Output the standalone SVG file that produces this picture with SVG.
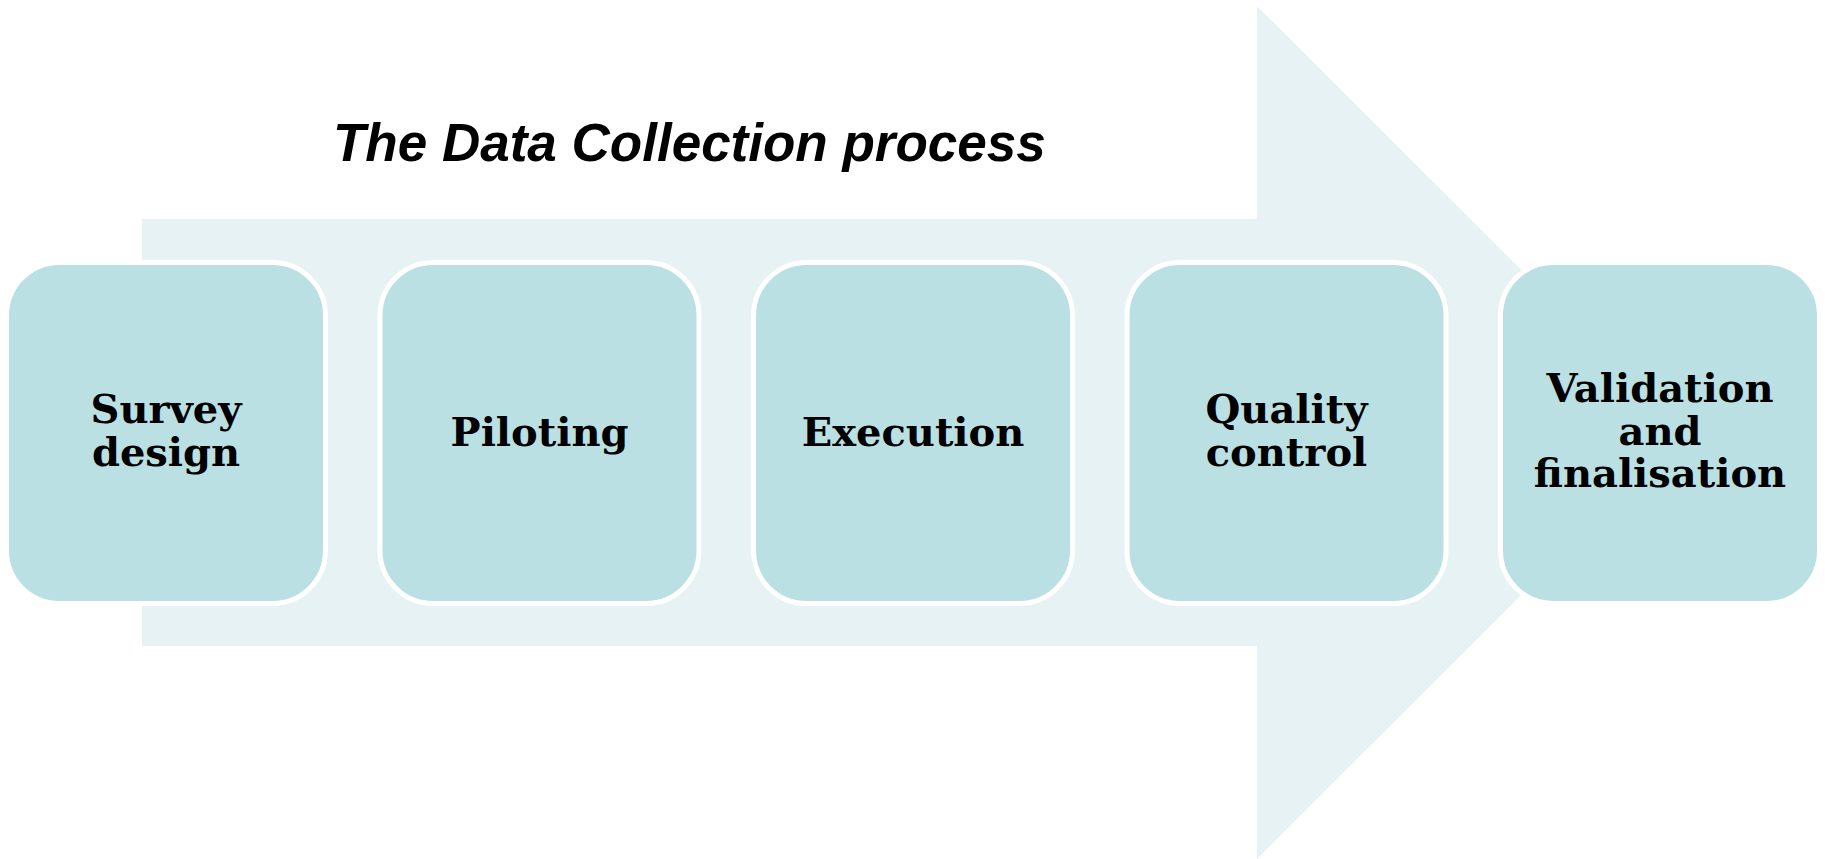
<svg xmlns="http://www.w3.org/2000/svg" width="1825" height="859" viewBox="0 0 1825 859">
<style>
.band{fill:#E6F2F4;}
.box{fill:#BAE0E3;stroke:#FFFFFF;stroke-width:5;}
.lbl{font-family:"DejaVu Serif","Liberation Serif",serif;font-weight:bold;font-size:40px;fill:#000000;text-anchor:middle;}
.title{font-family:"Liberation Sans",Arial,sans-serif;font-weight:bold;font-style:italic;font-size:53px;fill:#000000;}
</style>
<rect width="1825" height="859" fill="#FFFFFF"/>
<g id="arrow">
<polygon class="band" points="142,219 1257,219 1257,6 1684,432.5 1257,859 1257,646 142,646"/>
</g>
<g id="title">
<text class="title" x="333" y="161">The Data Collection process</text>
</g>
<g id="connectors"></g>
<g id="node1">
<rect class="box" x="6.5" y="262.5" width="319" height="341" rx="53" ry="53"/>
<text class="lbl" x="166" y="423">Survey</text>
<text class="lbl" x="166" y="466">design</text>
</g>
<g id="node2">
<rect class="box" x="380" y="262.5" width="319" height="341" rx="53" ry="53"/>
<text class="lbl" x="539.5" y="446">Piloting</text>
</g>
<g id="node3">
<rect class="box" x="753.5" y="262.5" width="319" height="341" rx="53" ry="53"/>
<text class="lbl" x="913" y="446">Execution</text>
</g>
<g id="node4">
<rect class="box" x="1127" y="262.5" width="319" height="341" rx="53" ry="53"/>
<text class="lbl" x="1286.5" y="423">Quality</text>
<text class="lbl" x="1286.5" y="466">control</text>
</g>
<g id="node5">
<rect class="box" x="1500.5" y="262.5" width="319" height="341" rx="53" ry="53"/>
<text class="lbl" x="1660" y="402">Validation</text>
<text class="lbl" x="1660" y="444.5">and</text>
<text class="lbl" x="1660" y="487">finalisation</text>
</g>
</svg>
